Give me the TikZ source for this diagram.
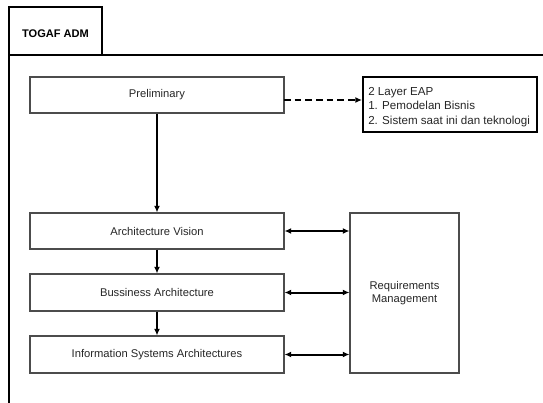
\documentclass[tikz,border=0pt]{standalone}
\usepackage{fontspec}
\setmainfont{Liberation Sans}
\usetikzlibrary{arrows.meta,calc}
\begin{document}
\begin{tikzpicture}[x=0.75pt,y=-0.75pt,
  box/.style={draw=black!70, line width=0.8pt, rectangle, minimum width=254*0.75pt, minimum height=36*0.75pt, inner sep=0pt, font=\fontsize{8.4}{10}\selectfont, text=black!85},
  frame/.style={line width=1.5pt, black},
  arr/.style={line width=1.5pt, -{Latex[length=5pt,width=4.5pt]}},
  darr/.style={line width=1.5pt, {Latex[length=5pt,width=4.5pt]}-{Latex[length=5pt,width=4.5pt]}}]
\useasboundingbox (0,0) rectangle (543,403);
% tab and frame
\draw[frame] (9,55) -- (9,7) -- (102,7) -- (102,55);
\draw[frame] (9,55) -- (543,55);
\draw[frame] (9,55) -- (9,403);
\node[font=\bfseries\fontsize{8.3}{10}\selectfont] (tab) at (55.5,34) {TOGAF ADM};
% phases
\node[box] (pre) at (157,95) {Preliminary};
\node[box] (av) at (157,231) {Architecture Vision};
\node[box, minimum height=37*0.75pt] (ba) at (157,292.5) {Bussiness Architecture};
\node[box, minimum height=37*0.75pt] (isa) at (157,354.5) {Information Systems Architectures};
\node[box, minimum width=109*0.75pt, minimum height=160*0.75pt, align=center] (req) at (404.5,293) {Requirements\\Management};
\node[draw=black, line width=1.5pt, rectangle, minimum width=174*0.75pt, minimum height=55*0.75pt, inner sep=0pt] (eap) at (450,104.5) {};
\node[anchor=west, align=left, font=\fontsize{8.7}{10.9}\selectfont, text=black!85, inner sep=0pt] (eaptext) at ($(eap.west)+(6,2.5)$) {2 Layer EAP\\1. Pemodelan Bisnis\\2. Sistem saat ini dan teknologi};
% connectors
\coordinate (dstart) at (284,100);
\coordinate (dend) at (dstart -| eap.west);
\draw[arr] (pre.south) -- (av.north);
\draw[arr] (av.south) -- (ba.north);
\draw[arr] (ba.south) -- (isa.north);
\draw[arr, dash pattern=on 5pt off 3pt] (dstart) -- (dend);
\draw[darr] (av.east) -- (av.east -| req.west);
\draw[darr] (ba.east) -- (ba.east -| req.west);
\draw[darr] (isa.east) -- (isa.east -| req.west);
\end{tikzpicture}
\end{document}
